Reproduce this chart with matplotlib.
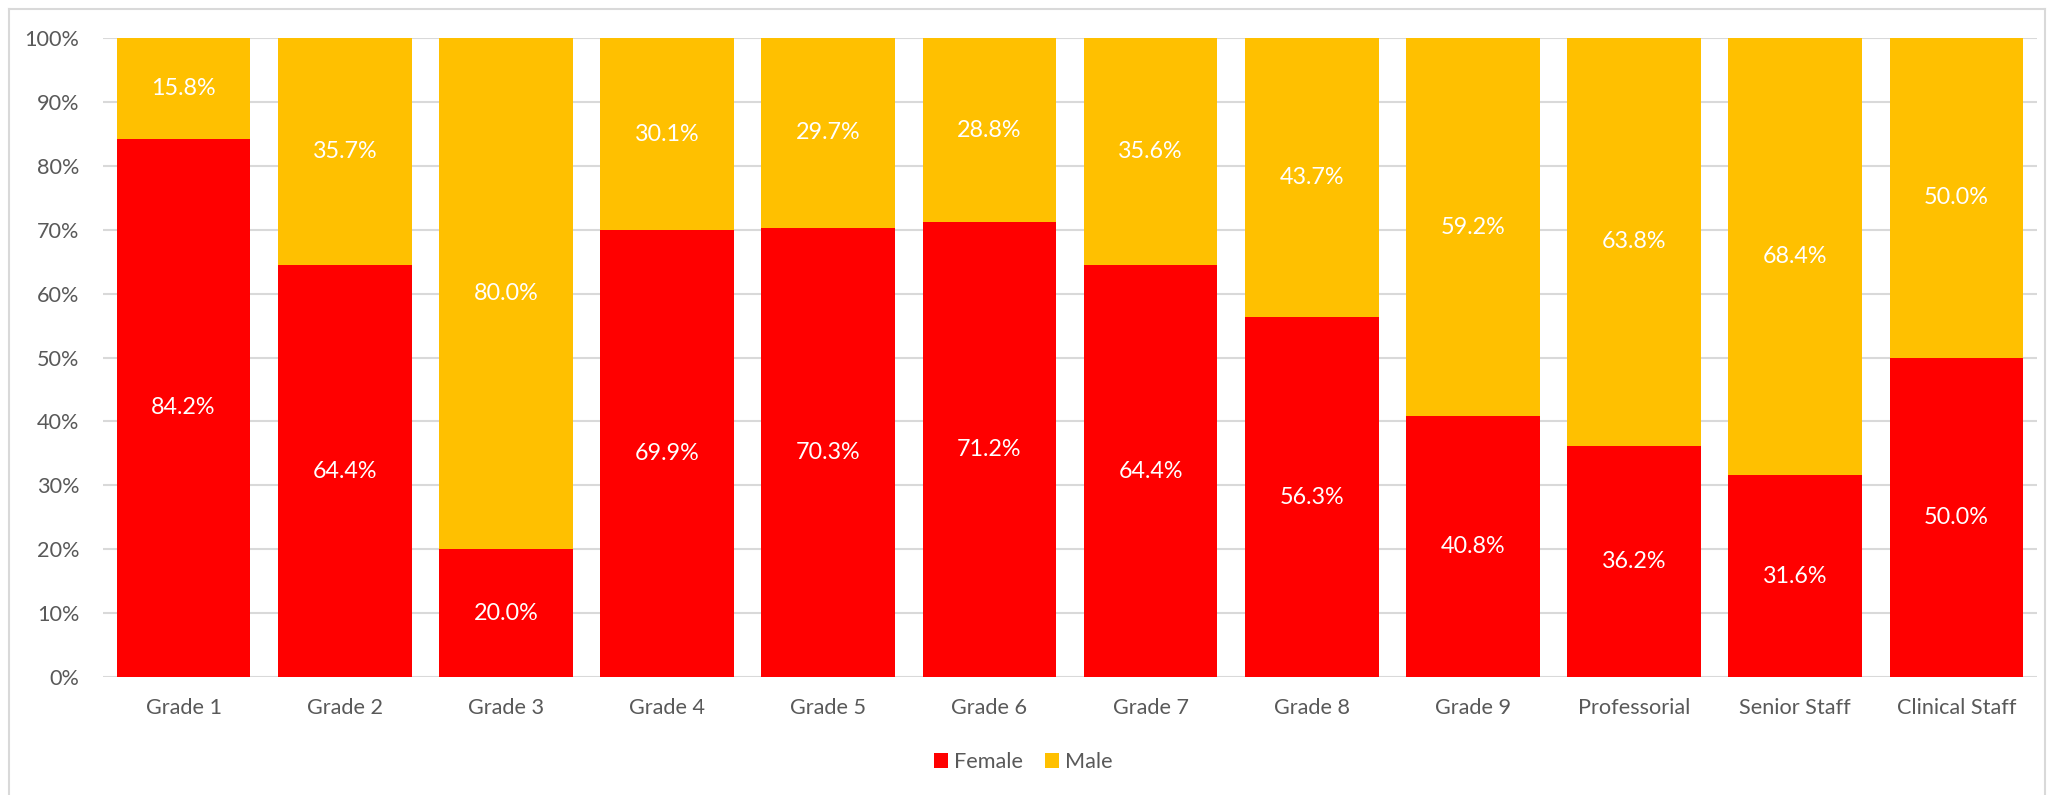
import numpy as np
import matplotlib.pyplot as plt
from matplotlib.lines import Line2D

plt.rcParams['font.family'] = ['Lato', 'DejaVu Sans']

grades = ["Grade 1", "Grade 2", "Grade 3", "Grade 4", "Grade 5", "Grade 6",
          "Grade 7", "Grade 8", "Grade 9", "Professorial", "Senior Staff", "Clinical Staff"]
female = [84.2, 64.4, 20.0, 69.9, 70.3, 71.2, 64.4, 56.3, 40.8, 36.2, 31.6, 50.0]
male = [15.8, 35.7, 80.0, 30.1, 29.7, 28.8, 35.6, 43.7, 59.2, 63.8, 68.4, 50.0]

RED = "#FF0000"
GOLD = "#FFC000"
GREY = "#595959"

W, H = 2047, 795
fig = plt.figure(figsize=(W / 100, H / 100), dpi=100)
ax = fig.add_axes([103 / W, (H - 677) / H, (2037 - 103) / W, (677 - 38) / H])

x = np.arange(len(grades))
f = np.array(female) / 100
m = np.array(male) / 100
ax.bar(x, f, width=0.83, color=RED, label="Female", zorder=2)
ax.bar(x, m, width=0.83, bottom=f, color=GOLD, label="Male", zorder=2)

for i in range(len(grades)):
    ax.text(x[i], f[i] / 2, "{:.1f}%".format(female[i]), ha="center", va="center",
            color="white", fontsize=16.8, zorder=3)
    ax.text(x[i], f[i] + min(m[i], 1 - f[i]) / 2, "{:.1f}%".format(male[i]),
            ha="center", va="center", color="white", fontsize=16.8, zorder=3)

ax.set_xlim(-0.5, len(grades) - 0.5)
ax.set_ylim(0, 1)
ax.set_yticks(np.arange(0, 1.01, 0.1))
ax.set_yticklabels(["{}%".format(v) for v in range(0, 101, 10)])
ax.set_xticks(x)
ax.set_xticklabels(grades)
ax.tick_params(length=0, labelsize=15.6, labelcolor=GREY)
ax.tick_params(axis="y", pad=17)
ax.tick_params(axis="x", pad=15)
ax.grid(axis="y", color="#D9D9D9", linewidth=1.5, zorder=0)
for s in ax.spines.values():
    s.set_visible(False)

fig.legend(loc="center", bbox_to_anchor=(0.5, 1 - 762 / H), ncol=2, frameon=False,
           fontsize=15.6, labelcolor=GREY, handlelength=0.64, handleheight=0.64,
           handletextpad=0.3, columnspacing=1.0)

# light frame around the chart area
for xs, ys in [([9, 2045], [9, 9]), ([9, 9], [9, 795]), ([2045, 2045], [9, 795])]:
    fig.add_artist(Line2D([v / W for v in xs], [1 - v / H for v in ys],
                          color="#D9D9D9", linewidth=1.5))

fig.savefig("out.png", dpi=100)
